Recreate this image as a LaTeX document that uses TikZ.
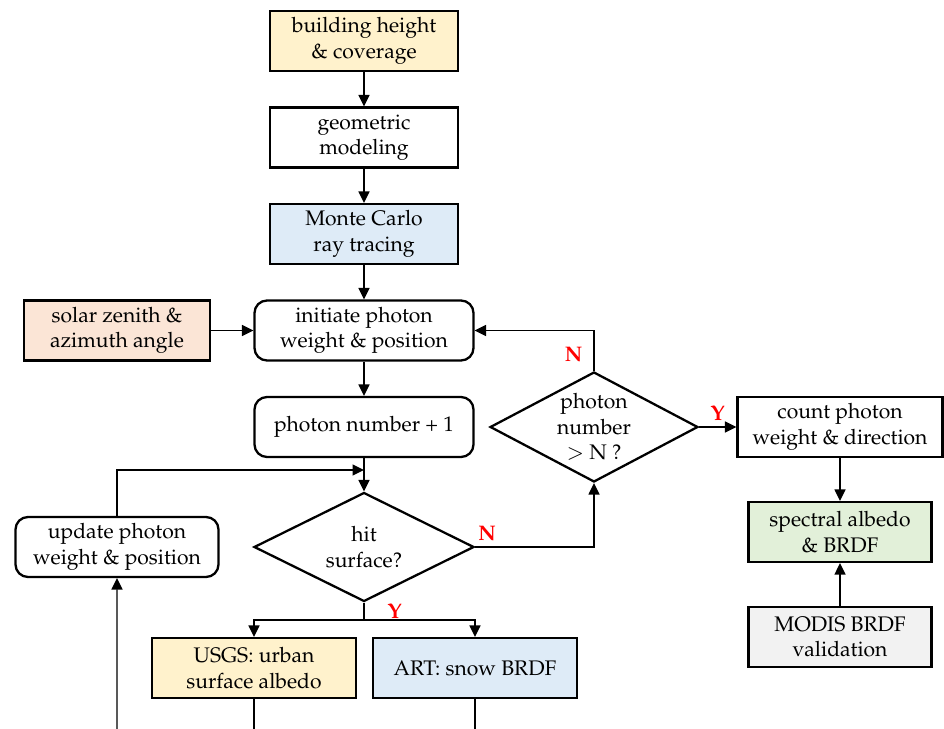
\documentclass[tikz,border=0pt]{standalone}
\usepackage[T1]{fontenc}
\usepackage{mathpazo}
\usetikzlibrary{shapes.geometric,arrows.meta}
\definecolor{boxyellow}{HTML}{FFF2CC}
\definecolor{boxblue}{HTML}{DEEBF7}
\definecolor{boxpeach}{HTML}{FBE5D6}
\definecolor{boxgreen}{HTML}{E2F0D9}
\definecolor{boxgray}{HTML}{F2F2F2}
\tikzset{
box/.style={draw,line width=1.3pt,minimum width=3.76cm,minimum height=1.2cm,align=center,font=\fontsize{12}{14.5}\selectfont},
rbox/.style={box,rounded corners=0.25cm,minimum width=4.38cm},
dec/.style={draw,diamond,line width=1.3pt,aspect=2,inner sep=0pt,align=center,font=\fontsize{12}{14.5}\selectfont},
lab/.style={text=red,font=\fontsize{12}{14.5}\selectfont\bfseries}
}
\begin{document}
\begin{tikzpicture}[->,>={Triangle[length=0.23cm,width=0.22cm]},node distance=1.93cm,line width=0.85pt]
\useasboundingbox (0,0) rectangle (18.88,-14.58);

\node[box,fill=boxyellow](bh) at (7.28,-0.82){building height\\\& coverage};
\node[box](geo)[below of=bh]{geometric\\modeling};
\node[box,fill=boxblue](mc)[below of=geo]{Monte Carlo\\ray tracing};
\node[rbox](init)[below of=mc]{initiate photon\\weight \& position};
\node[box,fill=boxpeach,minimum width=3.72cm](sza)[left of=init,xshift=-3.01cm]{solar zenith \&\\azimuth angle};
\node[rbox](pn)[below of=init]{photon number + 1};
\node[dec,minimum width=4.4cm,minimum height=2.18cm](hit)[below of=pn,yshift=-0.47cm]{hit\\surface?};
\node[rbox,minimum width=4.06cm](upd)[left of=hit,xshift=-3.01cm]{update photon\\weight \& position};
\node[dec,minimum width=4.1cm,minimum height=2.2cm](num)[right of=pn,xshift=2.67cm]{photon\\number\\$>$ N ?};
\node[box,minimum width=4.1cm](cnt)[right of=num,xshift=2.99cm]{count photon\\weight \& direction};
\node[box,fill=boxgreen,minimum width=3.66cm](spec)[below of=cnt,yshift=-0.17cm]{spectral albedo\\\& BRDF};
\node[box,fill=boxgray,minimum width=3.66cm](modis)[below of=spec,yshift=-0.17cm]{MODIS BRDF\\validation};
\node[box,fill=boxyellow,minimum width=4.08cm](usgs) at (5.08,-13.36){USGS: urban\\surface albedo};
\node[box,fill=boxblue,minimum width=4.08cm](art) at (9.5,-13.36){ART: snow BRDF};

\coordinate(join) at (7.28,-9.40);
\coordinate(split) at (7.28,-12.40);
\coordinate(e1) at (2.34,-14.58);
\coordinate(e2) at (5.08,-14.58);
\coordinate(e3) at (9.5,-14.58);

\path(bh)edge(geo)
(geo)edge(mc)
(mc)edge(init)
(init)edge(pn)
(pn)edge(hit)
(sza)edge(init)
(num)edge node[lab,above]{Y}(cnt)
(cnt)edge(spec)
(modis)edge(spec);

\draw(hit.east)-|node[lab,pos=0.05,above]{N}(num.south);
\draw(num.north)|-node[lab,pos=0.2,left,xshift=-0.1cm]{N}(init.east);
\draw(upd.north)|-(join);
\draw(e1)--(upd.south);
\draw[-](hit.south)--node[lab,right,xshift=0.34cm]{Y}(split);
\draw(split)-|(usgs.north);
\draw(split)-|(art.north);
\draw[-](usgs.south)--(e2);
\draw[-](art.south)--(e3);

\end{tikzpicture}
\end{document}
